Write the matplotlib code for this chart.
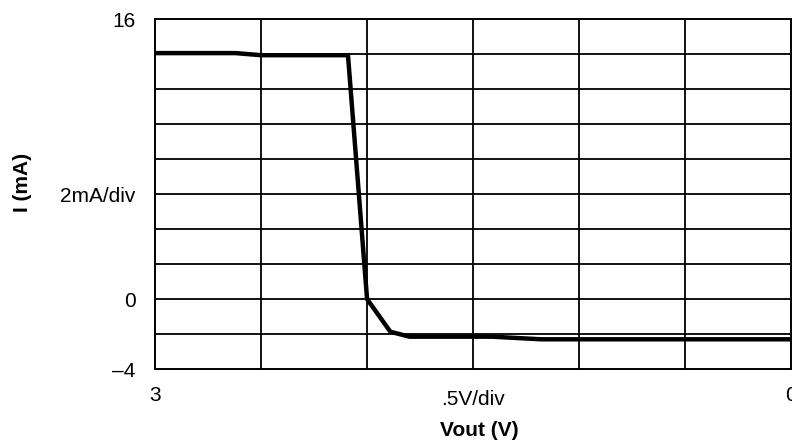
import numpy as np
import matplotlib
matplotlib.use('Agg')
import matplotlib.pyplot as plt
import matplotlib.transforms as mtransforms

plt.rcParams['font.family'] = ['Liberation Sans', 'DejaVu Sans']

# Vout (V) vs I (mA)
vout = [3.0, 2.62, 2.5, 2.09, 2.0, 1.89, 1.80, 1.41, 1.18, 0.0]
current = [14.07, 14.07, 13.95, 13.95, 0.0, -1.87, -2.15, -2.15, -2.3, -2.3]

xTicks = [3, 1.5, 0]
xTickLabels = ['3', '.5V/div', '0']
yTicks = [16, 6, 0, -4]
yTickLabels = ['16', '2mA/div', '0', '\u20134']


def plotCurve():
    fig = plt.figure(figsize=(7.92, 4.43), dpi=100)
    ax = fig.add_axes([0.1957, 0.167, 0.8033, 0.7893])

    # grid: 0.5 V/div and 2 mA/div
    for x in np.arange(0.5, 3.0, 0.5):
        ax.axvline(x, color='black', lw=1.3, zorder=1)
    for y in np.arange(-2, 16, 2):
        ax.axhline(y, color='black', lw=1.3, zorder=1)

    ax.plot(vout, current, color='black', lw=3.2, solid_joinstyle='miter', zorder=3)

    ax.set_xlim(3, 0)
    ax.set_ylim(-4, 16)
    for s in ax.spines.values():
        s.set_linewidth(1.4)
        s.set_color('black')

    ax.set_xticks(xTicks)
    ax.set_xticklabels(xTickLabels)
    ax.set_yticks(yTicks)
    ax.set_yticklabels(yTickLabels)
    ax.tick_params(axis='both', length=0, labelsize=15)
    ax.tick_params(axis='x', pad=12)
    ax.tick_params(axis='y', pad=14)

    # nudge the middle x label down a little
    lbl = ax.get_xticklabels()[1]
    lbl.set_transform(lbl.get_transform() + mtransforms.ScaledTranslation(0, -4 / 100, fig.dpi_scale_trans))

    fig.text(479 / 792, 1 - 430 / 443, 'Vout (V)', ha='center', va='center',
             fontsize=15, fontweight='bold')
    fig.text(22 / 792, 1 - 182 / 443, 'I (mA)', ha='center', va='center',
             fontsize=15, fontweight='bold', rotation=90)

    fig.savefig('out.png', dpi=100)


if __name__ == "__main__":
    plotCurve()
